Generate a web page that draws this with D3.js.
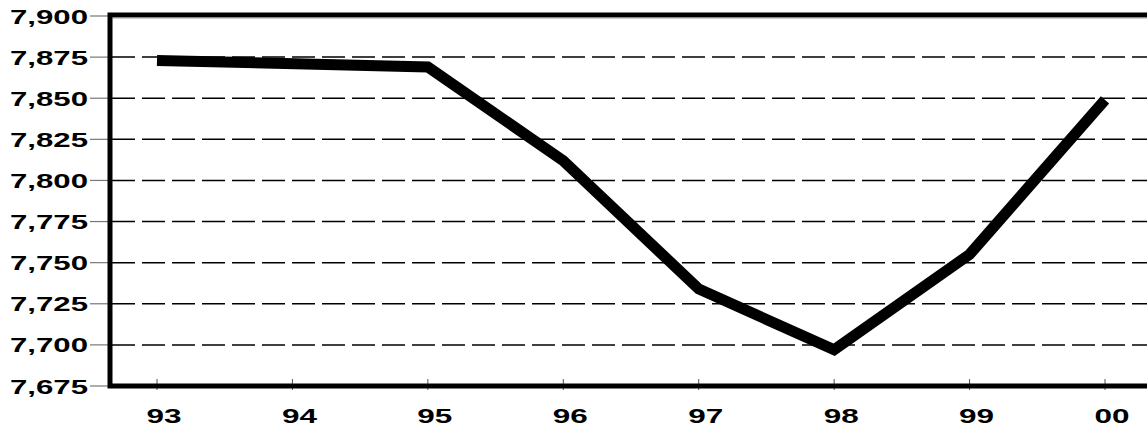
<!DOCTYPE html>
<html><head><meta charset="utf-8">
<script src="https://cdn.jsdelivr.net/npm/d3@7"></script>
<style>html,body{margin:0;padding:0;background:#fff;}svg{display:block;}</style>
</head><body>
<svg id="chart" width="1147" height="428"></svg>
<script>
const categories = ["93","94","95","96","97","98","99","00"];
const yearsWithData = ["93","95","96","97","98","99","00"];
const values = [7873, 7869, 7812, 7734, 7697, 7755, 7849];
const yTicks = [7675,7700,7725,7750,7775,7800,7825,7850,7875,7900];

(function(){
const svg = d3.select("#chart");
const padLeft = 110, padTop = 15, padBottom = 386;
const x = d3.scalePoint().domain(categories).range([157,1105]);
const y = d3.scaleLinear().domain([7675,7900]).range([padBottom, 16]);
const fmt = d3.format(",");
const font = "'Liberation Sans', Arial, sans-serif";

// gridlines
svg.append("g").selectAll("line").data(yTicks.filter(t=>t>7675 && t<7900)).join("line")
  .attr("x1", padLeft+2).attr("x2", 1147)
  .attr("y1", d=>y(d)).attr("y2", d=>y(d))
  .attr("stroke","#000").attr("stroke-width",1.5).attr("stroke-dasharray","23,7");

// y tick marks
svg.append("g").selectAll("line").data(yTicks).join("line")
  .attr("x1", 90).attr("x2", padLeft)
  .attr("y1", d=>y(d)).attr("y2", d=>y(d))
  .attr("stroke","#777").attr("stroke-width",1.2);

// y labels
svg.append("g").selectAll("text").data(yTicks).join("text")
  .attr("x", 88).attr("y", d=>y(d)+7.5)
  .attr("text-anchor","end")
  .attr("font-family", font).attr("font-weight","bold").attr("font-size",21)
  .attr("textLength",78).attr("lengthAdjust","spacingAndGlyphs")
  .text(d=>fmt(d));

// x tick marks
svg.append("g").selectAll("line").data(categories).join("line")
  .attr("x1", d=>x(d)).attr("x2", d=>x(d))
  .attr("y1", padBottom-7).attr("y2", padBottom+4)
  .attr("stroke","#555").attr("stroke-width",1);

// frame (top, left, bottom)
svg.append("path")
  .attr("d", `M${1152},${padTop} L${padLeft},${padTop} L${padLeft},${padBottom} L${1152},${padBottom}`)
  .attr("fill","none").attr("stroke","#000").attr("stroke-width",5);
svg.append("line").attr("x1",padLeft+3).attr("x2",1147).attr("y1",padTop+3).attr("y2",padTop+3)
  .attr("stroke","#999").attr("stroke-width",1);

// x labels
svg.append("g").selectAll("text").data(categories).join("text")
  .attr("x", d=>x(d)+7).attr("y", 423)
  .attr("text-anchor","middle")
  .attr("font-family", font).attr("font-weight","bold").attr("font-size",21)
  .attr("textLength",35).attr("lengthAdjust","spacingAndGlyphs")
  .text(d=>d);

// data line
const pts = yearsWithData.map((c,i)=>[c, values[i]]);
svg.append("path").datum(pts)
  .attr("d", d3.line().x(d=>x(d[0])).y(d=>y(d[1])))
  .attr("fill","none").attr("stroke","#000").attr("stroke-width",11)
  .attr("stroke-linejoin","miter").attr("stroke-linecap","butt");
})();
</script>
</body></html>
